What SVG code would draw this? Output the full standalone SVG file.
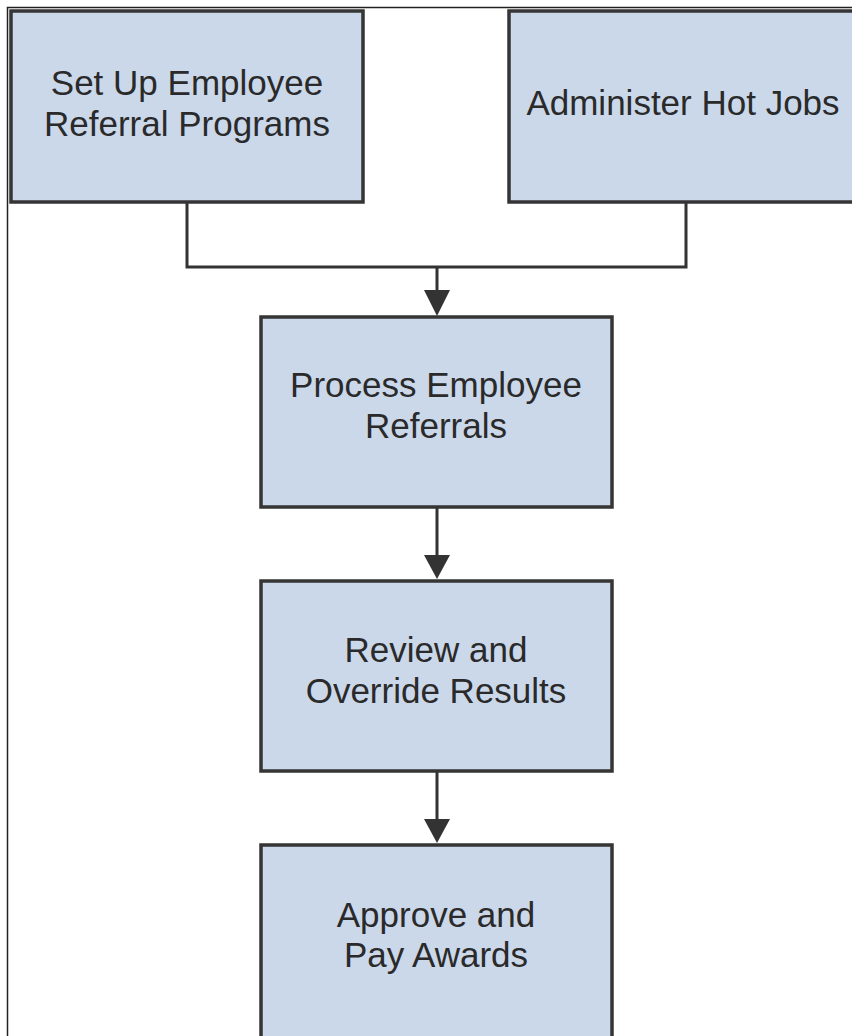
<svg xmlns="http://www.w3.org/2000/svg" width="852" height="1036" viewBox="0 0 852 1036">
<defs>
<style>
.box{fill:#cbd8ea;stroke:#353535;stroke-width:3.5}
.t{font-family:"Liberation Sans",Arial,sans-serif;font-size:35px;fill:#2a2a2a;text-anchor:middle}
.c{fill:none;stroke:#333;stroke-width:3}
.ah{fill:#333}
</style>
</defs>
<rect width="852" height="1036" fill="#fff"/>
<path d="M7.5 1036 V7.5 H852" fill="none" stroke="#222" stroke-width="1.5"/>
<g id="connectors">
<path class="c" d="M187 203 V267 H686 V203"/>
<path class="c" d="M437 267 V292"/>
<path class="ah" d="M424 290 H450 L437 316 Z"/>
<path class="c" d="M437 507 V557"/>
<path class="ah" d="M424 555 H450 L437 579 Z"/>
<path class="c" d="M437 772 V821"/>
<path class="ah" d="M424 819 H450 L437 843 Z"/>
</g>
<g id="n1">
<rect class="box" x="11" y="11" width="352" height="191"/>
<text class="t" x="187" y="95">Set Up Employee</text>
<text class="t" x="187" y="136">Referral Programs</text>
</g>
<g id="n2">
<rect class="box" x="509" y="11" width="360" height="191"/>
<text class="t" x="683" y="115">Administer Hot Jobs</text>
</g>
<g id="n3">
<rect class="box" x="261" y="317" width="351" height="190"/>
<text class="t" x="436" y="397">Process Employee</text>
<text class="t" x="436" y="438">Referrals</text>
</g>
<g id="n4">
<rect class="box" x="261" y="581" width="351" height="190"/>
<text class="t" x="436" y="662">Review and</text>
<text class="t" x="436" y="703">Override Results</text>
</g>
<g id="n5">
<rect class="box" x="261" y="845" width="351" height="200"/>
<text class="t" x="436" y="927">Approve and</text>
<text class="t" x="436" y="967">Pay Awards</text>
</g>
</svg>
